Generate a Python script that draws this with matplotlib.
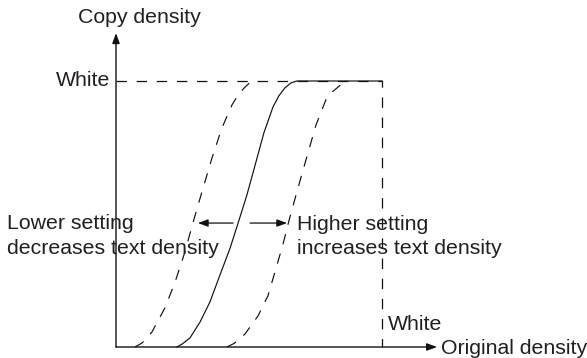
import matplotlib
matplotlib.use("Agg")
import matplotlib.pyplot as plt

# Characteristic curves: original density (x) vs copy density (y), 1.0 = "White"
std_x = [0.229, 0.250, 0.278, 0.316, 0.353, 0.391, 0.429, 0.459, 0.492, 0.523,
         0.556, 0.590, 0.612, 0.635, 0.658, 0.680, 1.000]
std_y = [0.000, 0.012, 0.034, 0.094, 0.169, 0.271, 0.372, 0.466, 0.571, 0.684,
         0.805, 0.902, 0.944, 0.974, 0.993, 1.000, 1.000]

low_x = [0.071, 0.098, 0.135, 0.184, 0.222, 0.259, 0.289, 0.323, 0.361, 0.398,
         0.436, 0.462, 0.485, 0.502, 0.515]
low_y = [0.000, 0.015, 0.056, 0.147, 0.244, 0.357, 0.466, 0.583, 0.711, 0.823,
         0.910, 0.952, 0.977, 0.993, 1.000]

high_x = [0.417, 0.445, 0.485, 0.534, 0.571, 0.602, 0.628, 0.650, 0.680, 0.714,
          0.752, 0.789, 0.812, 0.831, 0.850, 0.865]
high_y = [0.000, 0.014, 0.049, 0.117, 0.192, 0.297, 0.387, 0.474, 0.583, 0.703,
          0.835, 0.929, 0.958, 0.974, 0.990, 1.000]

# "White" limits on both axes
white_x = [0.0, 1.0, 1.0]
white_y = [1.0, 1.0, 0.0]

axis_x_end = 1.207
axis_y_end = 1.180

arrow_y = 0.466
arrow_low = (0.440, 0.308)
arrow_high = (0.504, 0.643)

y_title = "Copy density"
x_title = "Original density"
white_label = "White"
lower_lines = ["Lower setting", "decreases text density"]
higher_lines = ["Higher setting", "increases text density"]

plt.rcParams["font.family"] = ["Liberation Sans", "DejaVu Sans"]
plt.rcParams["lines.scale_dashes"] = False

fig = plt.figure(figsize=(5.87, 3.58), dpi=100)
ax = fig.add_axes([0, 0, 1, 1])
ax.set_xlim(-0.4361, 1.7707)
ax.set_ylim(-0.04135, 1.3045)
ax.axis("off")

ink = "#111111"
txt = "#231f20"
dash = (0, (7.5, 7.0))

# white limit guides
ax.plot(white_x, white_y, color=ink, lw=0.9, linestyle=dash)

# curves
ax.plot(std_x, std_y, color=ink, lw=0.85, solid_joinstyle="round")
ax.plot(low_x, low_y, color=ink, lw=0.85, linestyle=dash)
ax.plot(high_x, high_y, color=ink, lw=0.85, linestyle=dash)

# axes with arrow heads
head = "-|>,head_length=0.6,head_width=0.22"
ax.annotate("", xy=(0, axis_y_end), xytext=(0, 0),
            arrowprops=dict(arrowstyle=head, color=ink, lw=1.0,
                            shrinkA=0, shrinkB=0))
ax.annotate("", xy=(axis_x_end, 0), xytext=(0, 0),
            arrowprops=dict(arrowstyle=head, color=ink, lw=1.0,
                            shrinkA=0, shrinkB=0))

# shift arrows
ax.annotate("", xy=(arrow_low[1], arrow_y), xytext=(arrow_low[0], arrow_y),
            arrowprops=dict(arrowstyle=head, color=ink, lw=0.9,
                            shrinkA=0, shrinkB=0))
ax.annotate("", xy=(arrow_high[1], arrow_y), xytext=(arrow_high[0], arrow_y),
            arrowprops=dict(arrowstyle=head, color=ink, lw=0.9,
                            shrinkA=0, shrinkB=0))

fs = 15.3
ax.text(0.086, 1.237, y_title, ha="center", va="center",
        fontsize=fs, color=txt)
ax.text(-0.023, 1.0, white_label, ha="right", va="center",
        fontsize=fs, color=txt)
ax.text(1.023, 0.083, white_label, ha="left", va="center",
        fontsize=fs, color=txt)
ax.text(1.222, -0.004, x_title, ha="left", va="center",
        fontsize=fs, color=txt)
for line, yy in zip(lower_lines, [0.466, 0.372]):
    ax.text(-0.410, yy, line, ha="left", va="center", fontsize=fs, color=txt)
for line, yy in zip(higher_lines, [0.462, 0.372]):
    ax.text(0.680, yy, line, ha="left", va="center", fontsize=fs, color=txt)

fig.savefig("out.png", dpi=100)
